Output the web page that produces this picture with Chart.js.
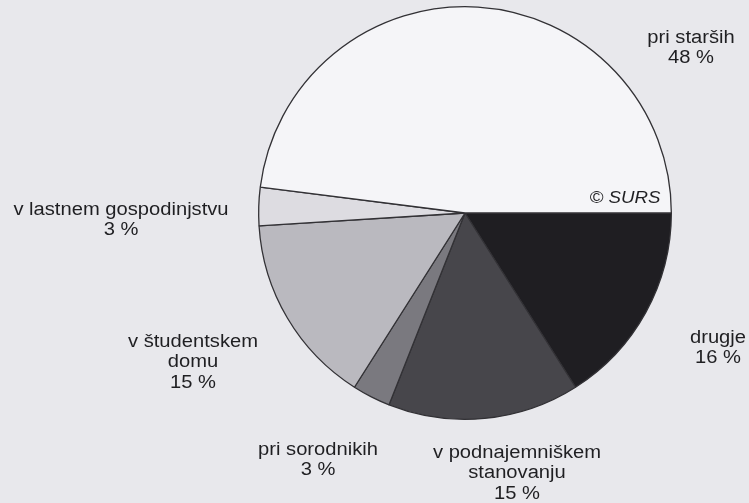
<!DOCTYPE html>
<html>
<head>
<meta charset="utf-8">
<script src="https://cdn.jsdelivr.net/npm/chart.js@4/dist/chart.umd.min.js"></script>
<style>
  html, body { margin: 0; padding: 0; background: #e8e8ec; }
  #wrap { width: 749px; height: 503px; position: relative; }
</style>
</head>
<body>
<div id="wrap"><canvas id="pie"></canvas></div>
<script>
// ==============================
// DATA (clockwise from 3 o'clock)
// ==============================
const categories = [
  ["drugje"],
  ["v podnajemniškem", "stanovanju"],
  ["pri sorodnikih"],
  ["v študentskem", "domu"],
  ["v lastnem gospodinjstvu"],
  ["pri starših"]
];
const shares = [16, 15, 3, 15, 3, 48];

// ==============================
// STYLE / LABEL LAYOUT
// ==============================
const sliceColors = ["#1f1e22", "#47464b", "#7a797f", "#bab9bf", "#dddce1", "#f5f5f8"];
// label centre relative to pie centre (first line)
const labelOffsets = [
  [253, 125], [52, 240], [-147, 237], [-272, 129], [-344, -3], [226, -175]
];

const labelPlugin = {
  id: "sliceLabels",
  afterDraw(chart) {
    const ctx = chart.ctx;
    const arc = chart.getDatasetMeta(0).data[0];
    const cx = arc.x, cy = arc.y;
    ctx.save();
    ctx.fillStyle = "#1f1f22";
    ctx.textAlign = "center";
    ctx.textBaseline = "middle";
    ctx.font = "18px 'Liberation Sans', Arial, sans-serif";
    categories.forEach((lines, i) => {
      const all = lines.concat([shares[i] + " %"]);
      const [dx, dy] = labelOffsets[i];
      all.forEach((t, k) => {
        ctx.save();
        ctx.translate(cx + dx, cy + dy + k * 20.5);
        ctx.scale(1.12, 1);
        ctx.fillText(t, 0, 0);
        ctx.restore();
      });
    });
    // source mark
    ctx.font = "italic 17px 'Liberation Sans', Arial, sans-serif";
    ctx.save();
    ctx.translate(cx + 160, cy - 15);
    ctx.scale(1.1, 1);
    ctx.fillText("© SURS", 0, 0);
    ctx.restore();
    ctx.restore();
  }
};

new Chart(document.getElementById("pie"), {
  type: "pie",
  data: {
    labels: categories.map(c => c.join(" ")),
    datasets: [{
      data: shares,
      backgroundColor: sliceColors,
      borderColor: "#323135",
      borderWidth: 1.3
    }]
  },
  options: {
    responsive: true,
    maintainAspectRatio: false,
    animation: false,
    rotation: 90,
    layout: { padding: { left: 258, right: 77, top: 6, bottom: 83 } },
    plugins: {
      legend: { display: false },
      tooltip: { enabled: false }
    }
  },
  plugins: [labelPlugin]
});
</script>
</body>
</html>
